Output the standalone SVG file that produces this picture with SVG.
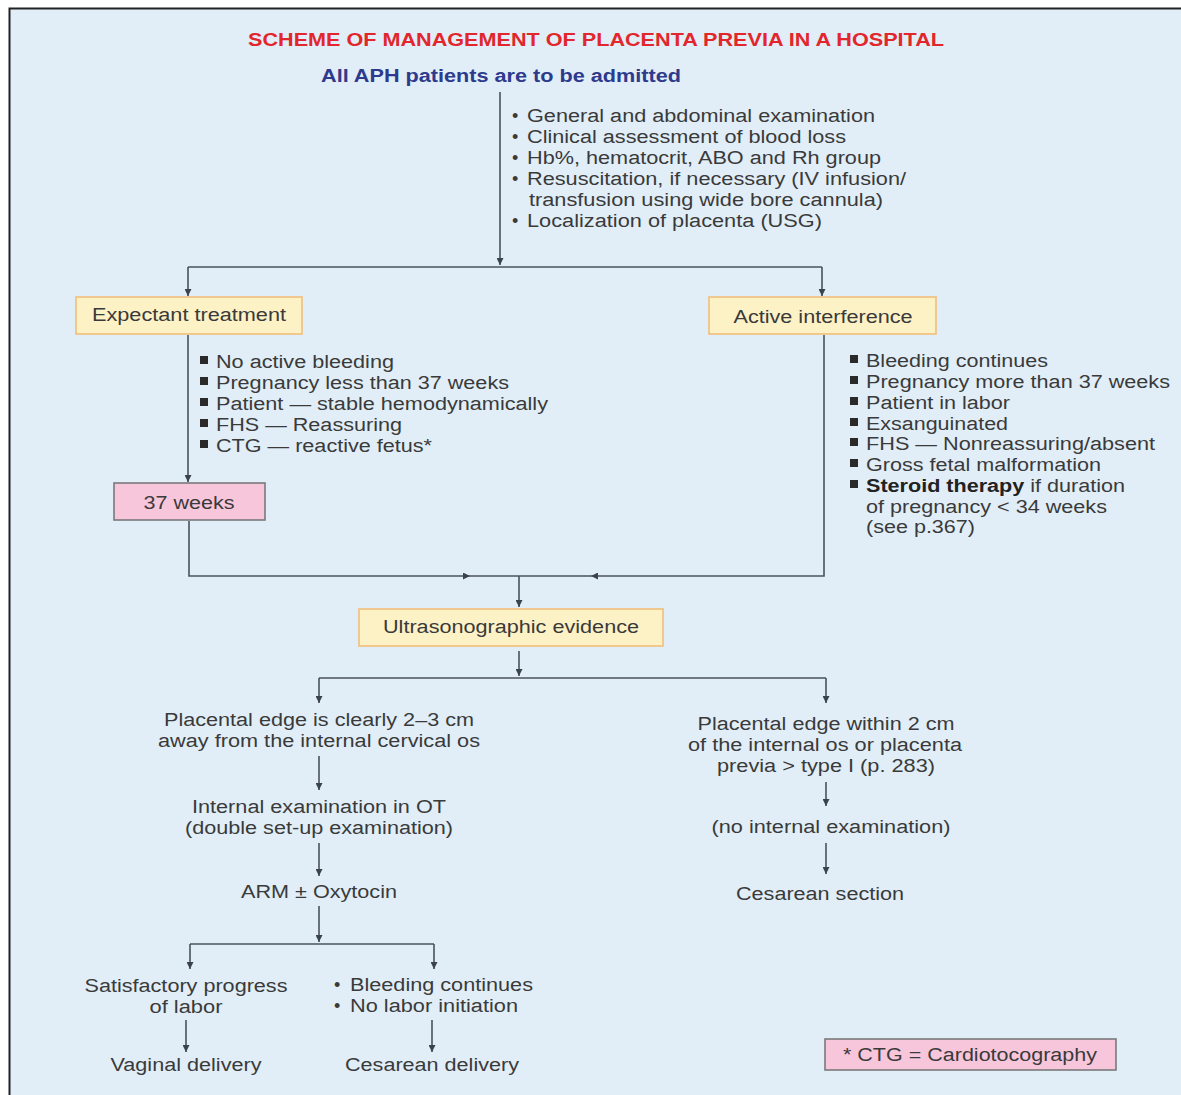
<svg xmlns="http://www.w3.org/2000/svg" width="1181" height="1095" viewBox="0 0 1181 1095">
<defs>
<style>
text{font-family:"Liberation Sans",Arial,sans-serif;font-size:18px;fill:#3a3a3a;lengthAdjust:spacingAndGlyphs}
.c{text-anchor:middle}
.title{fill:#e2262c;font-weight:bold}
.sub{fill:#2e3a8c;font-weight:bold}
.ln{fill:none;stroke:#4a525c;stroke-width:1.6}
.arr{fill:none;stroke:#4a525c;stroke-width:1.6;marker-end:url(#ah)}
.ybox{fill:#fdf1c6;stroke:#f0bf7a;stroke-width:1.6}
.pbox{fill:#f8c6da;stroke:#7a7a7a;stroke-width:1.6}
.sq{fill:#2a2a2a}
</style>
<marker id="ah" viewBox="0 0 10 10" refX="10" refY="5" markerWidth="7" markerHeight="7" markerUnits="userSpaceOnUse" orient="auto">
<path d="M0,0 L10,5 L0,10 z" fill="#3a424c"/>
</marker>
</defs>
<rect x="0" y="0" width="1181" height="1095" fill="#ffffff"/>
<rect x="9" y="8" width="1172" height="1087" fill="#e1eef8"/>
<path d="M9.5 1095 V8.5 H1181" fill="none" stroke="#222" stroke-width="2"/>

<g id="title">
<text class="title c" x="596" y="46" textLength="696" lengthAdjust="spacingAndGlyphs">SCHEME OF MANAGEMENT OF PLACENTA PREVIA IN A HOSPITAL</text>
<text class="sub c" x="501" y="82" textLength="360" lengthAdjust="spacingAndGlyphs">All APH patients are to be admitted</text>
</g>

<g id="connectors">
<path class="arr" d="M500 92 V265"/>
<path class="ln" d="M188 267 H822"/>
<path class="arr" d="M188 267 V296"/>
<path class="arr" d="M822 267 V296"/>
<path class="arr" d="M188 335 V482"/>
<path class="arr" d="M189 521 V576 H470"/>
<path class="arr" d="M824 335 V576 H591"/>
<path class="ln" d="M470 576 H591"/>
<path class="arr" d="M519 576 V607"/>
<path class="arr" d="M519 651 V676"/>
<path class="ln" d="M319 678 H826"/>
<path class="arr" d="M319 678 V703"/>
<path class="arr" d="M826 678 V703"/>
<path class="arr" d="M319 756 V790"/>
<path class="arr" d="M319 843 V876"/>
<path class="arr" d="M319 906 V942"/>
<path class="ln" d="M190 944 H434"/>
<path class="arr" d="M190 944 V969"/>
<path class="arr" d="M434 944 V969"/>
<path class="arr" d="M186 1020 V1052"/>
<path class="arr" d="M432 1020 V1052"/>
<path class="arr" d="M826 782 V806"/>
<path class="arr" d="M826 843 V874"/>
</g>

<g id="initial-steps">
<text x="512" y="122">•</text><text x="527" y="122" textLength="348" lengthAdjust="spacingAndGlyphs">General and abdominal examination</text>
<text x="512" y="143">•</text><text x="527" y="143" textLength="319" lengthAdjust="spacingAndGlyphs">Clinical assessment of blood loss</text>
<text x="512" y="164">•</text><text x="527" y="164" textLength="354" lengthAdjust="spacingAndGlyphs">Hb%, hematocrit, ABO and Rh group</text>
<text x="512" y="185">•</text><text x="527" y="185" textLength="379" lengthAdjust="spacingAndGlyphs">Resuscitation, if necessary (IV infusion/</text>
<text x="529" y="206" textLength="354" lengthAdjust="spacingAndGlyphs">transfusion using wide bore cannula)</text>
<text x="512" y="227">•</text><text x="527" y="227" textLength="295" lengthAdjust="spacingAndGlyphs">Localization of placenta (USG)</text>
</g>

<g id="expectant">
<rect class="ybox" x="76" y="297" width="226" height="37"/>
<text class="c" x="189" y="321" textLength="194" lengthAdjust="spacingAndGlyphs">Expectant treatment</text>
</g>

<g id="active">
<rect class="ybox" x="709" y="297" width="227" height="37"/>
<text class="c" x="823" y="323" textLength="179" lengthAdjust="spacingAndGlyphs">Active interference</text>
</g>

<g id="expectant-criteria">
<rect class="sq" x="200" y="356" width="8" height="8"/><text x="216" y="368" textLength="178" lengthAdjust="spacingAndGlyphs">No active bleeding</text>
<rect class="sq" x="200" y="377" width="8" height="8"/><text x="216" y="389" textLength="293" lengthAdjust="spacingAndGlyphs">Pregnancy less than 37 weeks</text>
<rect class="sq" x="200" y="398" width="8" height="8"/><text x="216" y="410" textLength="332" lengthAdjust="spacingAndGlyphs">Patient — stable hemodynamically</text>
<rect class="sq" x="200" y="419" width="8" height="8"/><text x="216" y="431" textLength="186" lengthAdjust="spacingAndGlyphs">FHS — Reassuring</text>
<rect class="sq" x="200" y="440" width="8" height="8"/><text x="216" y="452" textLength="216" lengthAdjust="spacingAndGlyphs">CTG — reactive fetus*</text>
</g>

<g id="weeks37">
<rect class="pbox" x="114" y="483" width="151" height="37"/>
<text class="c" x="189" y="509" textLength="91" lengthAdjust="spacingAndGlyphs">37 weeks</text>
</g>

<g id="active-criteria">
<rect class="sq" x="850" y="355" width="8" height="8"/><text x="866" y="367" textLength="182" lengthAdjust="spacingAndGlyphs">Bleeding continues</text>
<rect class="sq" x="850" y="376" width="8" height="8"/><text x="866" y="388" textLength="304" lengthAdjust="spacingAndGlyphs">Pregnancy more than 37 weeks</text>
<rect class="sq" x="850" y="397" width="8" height="8"/><text x="866" y="409" textLength="144" lengthAdjust="spacingAndGlyphs">Patient in labor</text>
<rect class="sq" x="850" y="418" width="8" height="8"/><text x="866" y="430" textLength="142" lengthAdjust="spacingAndGlyphs">Exsanguinated</text>
<rect class="sq" x="850" y="438" width="8" height="8"/><text x="866" y="450" textLength="289" lengthAdjust="spacingAndGlyphs">FHS — Nonreassuring/absent</text>
<rect class="sq" x="850" y="459" width="8" height="8"/><text x="866" y="471" textLength="235" lengthAdjust="spacingAndGlyphs">Gross fetal malformation</text>
<rect class="sq" x="850" y="480" width="8" height="8"/><text x="866" y="492" textLength="259" lengthAdjust="spacingAndGlyphs"><tspan font-weight="bold" fill="#222">Steroid therapy</tspan> if duration</text>
<text x="866" y="513" textLength="241" lengthAdjust="spacingAndGlyphs">of pregnancy &lt; 34 weeks</text>
<text x="866" y="533" textLength="109" lengthAdjust="spacingAndGlyphs">(see p.367)</text>
</g>

<g id="usg">
<rect class="ybox" x="359" y="609" width="304" height="37"/>
<text class="c" x="511" y="633" textLength="256" lengthAdjust="spacingAndGlyphs">Ultrasonographic evidence</text>
</g>

<g id="edge-clear">
<text class="c" x="319" y="726" textLength="310" lengthAdjust="spacingAndGlyphs">Placental edge is clearly 2–3 cm</text>
<text class="c" x="319" y="747" textLength="322" lengthAdjust="spacingAndGlyphs">away from the internal cervical os</text>
</g>
<g id="internal-exam">
<text class="c" x="319" y="813" textLength="254" lengthAdjust="spacingAndGlyphs">Internal examination in OT</text>
<text class="c" x="319" y="834" textLength="268" lengthAdjust="spacingAndGlyphs">(double set-up examination)</text>
</g>
<g id="arm">
<text class="c" x="319" y="898" textLength="156" lengthAdjust="spacingAndGlyphs">ARM ± Oxytocin</text>
</g>
<g id="satisfactory">
<text class="c" x="186" y="992" textLength="203" lengthAdjust="spacingAndGlyphs">Satisfactory progress</text>
<text class="c" x="186" y="1013" textLength="73" lengthAdjust="spacingAndGlyphs">of labor</text>
</g>
<g id="bleeding">
<text x="334" y="991">•</text><text x="350" y="991" textLength="183" lengthAdjust="spacingAndGlyphs">Bleeding continues</text>
<text x="334" y="1012">•</text><text x="350" y="1012" textLength="168" lengthAdjust="spacingAndGlyphs">No labor initiation</text>
</g>
<g id="vaginal">
<text class="c" x="186" y="1071" textLength="151" lengthAdjust="spacingAndGlyphs">Vaginal delivery</text>
</g>
<g id="cesarean-delivery">
<text class="c" x="432" y="1071" textLength="174" lengthAdjust="spacingAndGlyphs">Cesarean delivery</text>
</g>

<g id="edge-within">
<text class="c" x="826" y="730" textLength="257" lengthAdjust="spacingAndGlyphs">Placental edge within 2 cm</text>
<text class="c" x="825" y="751" textLength="274" lengthAdjust="spacingAndGlyphs">of the internal os or placenta</text>
<text class="c" x="826" y="772" textLength="218" lengthAdjust="spacingAndGlyphs">previa &gt; type I (p. 283)</text>
</g>
<g id="no-internal">
<text class="c" x="831" y="833" textLength="239" lengthAdjust="spacingAndGlyphs">(no internal examination)</text>
</g>
<g id="cesarean-section">
<text class="c" x="820" y="900" textLength="168" lengthAdjust="spacingAndGlyphs">Cesarean section</text>
</g>

<g id="footnote">
<rect class="pbox" x="825" y="1039" width="291" height="31"/>
<text class="c" x="970" y="1061" textLength="254" lengthAdjust="spacingAndGlyphs">* CTG = Cardiotocography</text>
</g>
</svg>
